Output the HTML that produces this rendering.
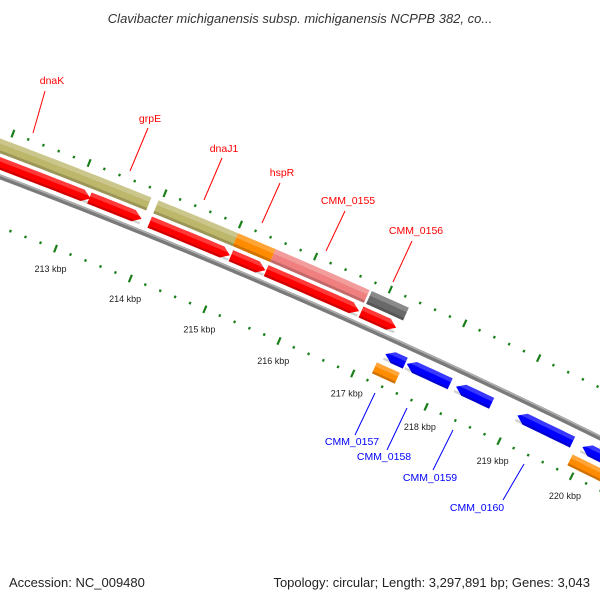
<!DOCTYPE html>
<html><head><meta charset="utf-8">
<style>
html,body{margin:0;padding:0;background:#fff;}
svg{display:block;font-family:"Liberation Sans","DejaVu Sans",sans-serif;}
</style></head>
<body>
<svg id="map" width="600" height="600" viewBox="0 0 600 600" xmlns="http://www.w3.org/2000/svg">
<text x="300" y="23" text-anchor="middle" font-size="13" font-style="italic" fill="#333">Clavibacter michiganensis subsp. michiganensis NCPPB 382, co...</text>
<text x="9" y="587" font-size="13" fill="#222">Accession: NC_009480</text>
<text x="590" y="587" text-anchor="end" font-size="13" fill="#222">Topology: circular; Length: 3,297,891 bp; Genes: 3,043</text>
<g id="ticks"></g>
<g id="backbone"></g>
<g id="features"></g>
<g id="labels"></g>
</svg>
<script>
// ---- data ----
const featStarts = [210500, 213160, 213959, 215040, 215510, 216784, 210500, 213959, 215014, 215514, 216800, 217270, 217560, 218230, 219068, 219960, 217216, 219892];
const featEnds   = [213176, 213851, 215027, 215500, 216757, 217257, 213865, 215014, 215514, 216770, 217297, 217540, 218150, 218716, 219824, 221000, 217527, 221000];
const featTracks = ['red','red','red','red','red','red','olive','olive','olive','olive','olive','blue','blue','blue','blue','blue','inner','inner'];
const featColors = ['#ff0000','#ff0000','#ff0000','#ff0000','#ff0000','#ff0000','#bdb76b','#bdb76b','#ff8c00','#f08080','#696969','#0000ff','#0000ff','#0000ff','#0000ff','#0000ff','#ff8c00','#ff8c00'];
const featStrand = [1,1,1,1,1,1,0,0,0,0,0,-1,-1,-1,-1,-1,0,0];
const tickLabels = ['213 kbp','214 kbp','215 kbp','216 kbp','217 kbp','218 kbp','219 kbp','220 kbp'];
const tickLabelBp = [213000,214000,215000,216000,217000,218000,219000,220000];

const CX=-2437, CY=6599, A0=-68.57, DA=0.677e-3, REF=213000;
const trackR = {olive:[6891,6905], red:[6875.5,6887.5], blue:[6847,6859], inner:[6830,6842]};
const NS='http://www.w3.org/2000/svg';
function pt(bp,r){const a=(A0+(bp-REF)*DA)*Math.PI/180;return [CX+r*Math.cos(a),CY+r*Math.sin(a)];}
function mk(tag,attrs,parent){const e=document.createElementNS(NS,tag);for(const k in attrs)e.setAttribute(k,attrs[k]);parent.appendChild(e);return e;}
function arcPts(s,e,r){const out=[];const n=Math.max(2,Math.ceil((e-s)/100));for(let i=0;i<=n;i++)out.push(pt(s+(e-s)*i/n,r));return out;}
function fmt(p){return p.map(q=>q[0].toFixed(2)+','+q[1].toFixed(2)).join(' ');}

// ticks
const tg=document.getElementById('ticks');
[6914,6822].forEach((r,ri)=>{
  for(let bp=210000;bp<=222000;bp+=200){
    const major=bp%1000===0;
    const a=pt(bp,r-(major?4:1.3)), b=pt(bp,r+(major?4:1.3));
    const l=mk('line',{x1:a[0],y1:a[1],x2:b[0],y2:b[1],stroke:'#1a7f1a','stroke-width':major?2.2:2.2},tg);
    
    
  }
});
tickLabels.forEach((t,i)=>{
  const p=pt(tickLabelBp[i],6800);
  const tx=mk('text',{x:p[0]+3,y:p[1]+3,'text-anchor':'middle','font-size':'9',fill:'#222'},tg);
  tx.textContent=t;
  
  
});

// backbone
const bb=document.getElementById('backbone');
const bpts=arcPts(209000,223000,6869);
let l1=mk('polyline',{points:fmt(bpts),fill:'none',stroke:'#7a7a7a','stroke-width':5},bb);


let l2=mk('polyline',{points:fmt(arcPts(209000,223000,6870.5)),fill:'none',stroke:'#b0b0b0','stroke-width':1.5},bb);



// features
const fg=document.getElementById('features');
const ARROW=105;
function band(s,e,r1,r2,strand){
  const rm=(r1+r2)/2;let pts;
  if(strand===1){const e2=Math.max(s,e-ARROW);pts=arcPts(s,e2,r2).concat([pt(e,rm)]).concat(arcPts(s,e2,r1).reverse());}
  else if(strand===-1){const s2=Math.min(e,s+ARROW);pts=[pt(s,rm)].concat(arcPts(s2,e,r2)).concat(arcPts(s2,e,r1).reverse());}
  else pts=arcPts(s,e,r2).concat(arcPts(s,e,r1).reverse());
  return fmt(pts);
}
featStarts.forEach((s,i)=>{
  const e=featEnds[i];const [r1,r2]=trackR[featTracks[i]];const st=featStrand[i];
  const g=mk('g',{},fg);
  
  
  mk('polygon',{points:band(s,e,r1,r2,st),fill:featColors[i]},g);
  const h=r2-r1;
  mk('polygon',{points:band(s,e,r2-h*0.35,r2,0),fill:'rgba(255,255,255,0.22)'},g);
  mk('polygon',{points:band(s,e,r1,r1+h*0.2,0),fill:'rgba(0,0,0,0.18)'},g);
});

// labels
const lg=document.getElementById('labels');
const labs=[
 ['dnaK',52,84,'#f00',45,91,33,133],
 ['grpE',150,122,'#f00',148,128,130,171],
 ['dnaJ1',224,152,'#f00',222,158,204,200],
 ['hspR',282,176,'#f00',280,183,262,223],
 ['CMM_0155',348,204,'#f00',345,211,326,251],
 ['CMM_0156',416,234,'#f00',412,241,393,282],
 ['CMM_0157',352,445,'#00f',375,393,355,435],
 ['CMM_0158',384,460,'#00f',407,408,387,450],
 ['CMM_0159',430,481,'#00f',453,430,433,470],
 ['CMM_0160',477,511,'#00f',524,464,503,500]
];
labs.forEach(L=>{
  const ln=mk('line',{x1:L[4],y1:L[5],x2:L[6],y2:L[7],stroke:L[3],'stroke-width':1},lg);
  
  
  const t=mk('text',{x:L[1],y:L[2],'text-anchor':'middle','font-size':'10.5',fill:L[3]},lg);
  t.textContent=L[0];
  
  
});
</script>
</body></html>
